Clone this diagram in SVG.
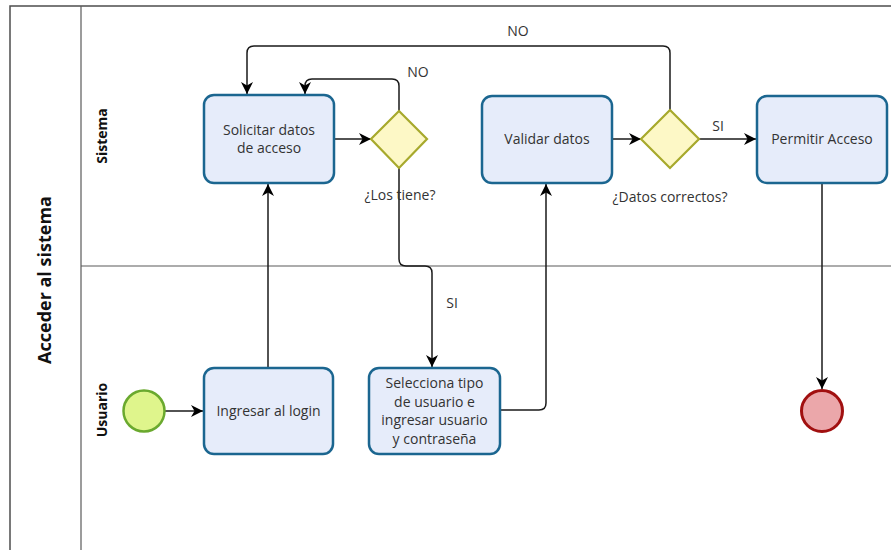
<svg xmlns="http://www.w3.org/2000/svg" width="891" height="550" viewBox="0 0 891 550">
  <style>
    .pool { fill: #ffffff; stroke: #4d4d4d; stroke-width: 1.5; }
    .lane { fill: none; stroke: #5a5a5a; stroke-width: 1.2; }
    .task { fill: #e6ecfa; stroke: #1b6690; stroke-width: 2.5; }
    .gw { fill: #fdf8c6; stroke: #a7a92c; stroke-width: 2.2; }
    .start { fill: #dff58c; stroke: #6aa92e; stroke-width: 2.5; }
    .end { fill: #eba7aa; stroke: #a11010; stroke-width: 3; }
    .flow { fill: none; stroke: #1a1a1a; stroke-width: 1.5; marker-end: url(#arrow); }
    .label { font-family: "Open Sans", "Noto Sans", sans-serif; font-size: 14px; fill: #333333; text-anchor: middle; }
    .lanetitle { font-family: "Open Sans", "Noto Sans", sans-serif; font-size: 14px; font-weight: bold; fill: #111111; text-anchor: middle; }
    .pooltitle { font-family: "Open Sans", "Noto Sans", sans-serif; font-size: 18px; font-weight: bold; fill: #111111; text-anchor: middle; }
  </style>
  <defs>
    <marker id="arrow" markerWidth="14" markerHeight="14" refX="12" refY="7" orient="auto" markerUnits="userSpaceOnUse">
      <path d="M0,1 L12,7 L0,13 L3.5,7 Z" fill="#000000"/>
    </marker>
  </defs>

  <rect width="891" height="550" fill="#ffffff"/>

  <!-- pool and lanes -->
  <g id="pool">
    <rect class="pool" x="10" y="6" width="900" height="560"/>
    <line class="lane" x1="81" y1="6" x2="81" y2="560"/>
    <line class="lane" x1="81" y1="266" x2="891" y2="266"/>
    <text class="pooltitle" transform="translate(51,280) rotate(-90)">Acceder al sistema</text>
    <text class="lanetitle" transform="translate(107,136) rotate(-90)">Sistema</text>
    <text class="lanetitle" transform="translate(107,410) rotate(-90)">Usuario</text>
  </g>

  <!-- connectors -->
  <g id="connectors">
    <path class="flow" d="M165,411 H203"/>
    <path class="flow" d="M268,368 V184"/>
    <path class="flow" d="M334,139 H371"/>
    <path class="flow" d="M399,111 V86 Q399,79 392,79 H312 Q305,79 305,86 V94"/>
    <path class="flow" d="M399,168 V259 Q399,266 406,266 H425 Q432,266 432,273 V367"/>
    <path class="flow" d="M500,410 H539 Q546,410 546,403 V184"/>
    <path class="flow" d="M612,139 H641"/>
    <path class="flow" d="M670,110 V53 Q670,46 663,46 H254 Q247,46 247,53 V94"/>
    <path class="flow" d="M699,139 H756"/>
    <path class="flow" d="M822,183 V389"/>
    <text class="label" x="418" y="77">NO</text>
    <text class="label" x="518" y="36">NO</text>
    <text class="label" x="452" y="308">SI</text>
    <text class="label" x="718" y="131">SI</text>
  </g>

  <!-- flow nodes -->
  <g id="start">
    <circle class="start" cx="144" cy="411" r="20.5"/>
  </g>
  <g id="ingresar-login">
    <rect class="task" x="204" y="368" width="129" height="86" rx="10"/>
    <text class="label" x="268.5" y="416">Ingresar al login</text>
  </g>
  <g id="solicitar-datos">
    <rect class="task" x="204" y="95" width="130" height="88" rx="10"/>
    <text class="label" x="269" y="135">Solicitar datos</text>
    <text class="label" x="269" y="153">de acceso</text>
  </g>
  <g id="gw-los-tiene">
    <polygon class="gw" points="399,111 427,139 399,168 371,139"/>
    <text class="label" x="400" y="200">¿Los tiene?</text>
  </g>
  <g id="selecciona-tipo">
    <rect class="task" x="369" y="368" width="131" height="86" rx="10"/>
    <text class="label" x="434.5" y="388">Selecciona tipo</text>
    <text class="label" x="434.5" y="406.5">de usuario e</text>
    <text class="label" x="434.5" y="425">ingresar usuario</text>
    <text class="label" x="434.5" y="443.5">y contraseña</text>
  </g>
  <g id="validar-datos">
    <rect class="task" x="482" y="96" width="130" height="87" rx="10"/>
    <text class="label" x="547" y="144">Validar datos</text>
  </g>
  <g id="gw-datos-correctos">
    <polygon class="gw" points="670,110 699,139 670,168 641,139"/>
    <text class="label" x="670" y="202">¿Datos correctos?</text>
  </g>
  <g id="permitir-acceso">
    <rect class="task" x="757" y="96" width="130" height="87" rx="10"/>
    <text class="label" x="822" y="144">Permitir Acceso</text>
  </g>
  <g id="end">
    <circle class="end" cx="822" cy="411" r="20.5"/>
  </g>
</svg>
